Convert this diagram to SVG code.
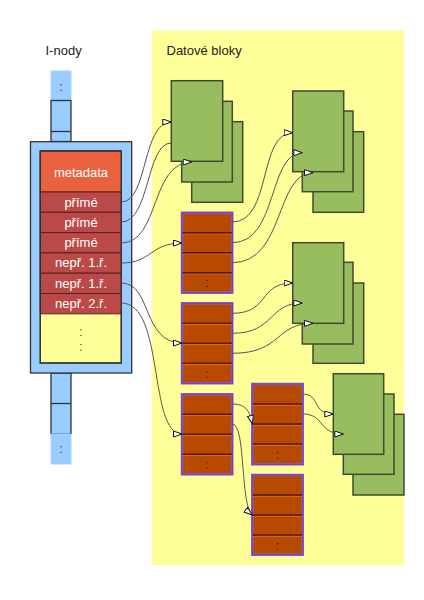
<svg xmlns="http://www.w3.org/2000/svg" width="424" height="600" viewBox="0 0 424 600">
<style>
.lbl{font-family:"Liberation Sans",Arial,sans-serif;font-size:13px;fill:#222}
.wt{font-family:"Liberation Sans",Arial,sans-serif;font-size:13px;fill:#fff;text-anchor:middle}
.dots{font-family:"Liberation Sans",Arial,sans-serif;font-size:12px;text-anchor:middle}
.blue{fill:#99ccff;stroke:#333;stroke-width:1.3}
.cell{fill:#99ccff;stroke:#a8d4ff;stroke-width:1}
.row{fill:#b94a48;stroke:#5a1e1e;stroke-width:1}
.card{fill:#97bd5f;stroke:#3f4a30;stroke-width:1.5}
.hl{fill:none;stroke:#b9e07e;stroke-width:1}
.blk{fill:#b84a00;stroke:#7a7a7a;stroke-width:2.5}
.blkin{fill:none;stroke:#8a2cff;stroke-width:1.3}
.rl{stroke:#4a1c00;stroke-width:1.5}
.rh{stroke:#e8690f;stroke-width:1}
.con{fill:none;stroke:#555;stroke-width:1}
</style>
<defs>
<marker id="arr" markerUnits="userSpaceOnUse" markerWidth="10" markerHeight="8" refX="9" refY="3.5" orient="auto">
<path d="M0.5,0.5 L9,3.5 L0.5,6.5 Z" fill="#fff" stroke="#111" stroke-width="1"/>
</marker>
</defs>
<rect x="151.7" y="30.7" width="252.3" height="534.3" fill="#ffff99"/>
<text class="lbl" x="45.5" y="54.5">I-nody</text>
<text class="lbl" x="166.5" y="54.5">Datové bloky</text>

<g id="inode-stack-top">
<rect class="cell" x="51" y="71" width="20" height="29.5"/>
<text class="dots" x="61" y="91" fill="#333">:</text>
<rect class="blue" x="51" y="100.5" width="20" height="41"/>
<line x1="51" y1="131.5" x2="71" y2="131.5" stroke="#333" stroke-width="1.3"/>
</g>
<g id="inode-stack-bottom">
<rect class="blue" x="51" y="373" width="20" height="61"/>
<line x1="51" y1="403.5" x2="71" y2="403.5" stroke="#333" stroke-width="1.3"/>
<rect class="cell" x="51" y="434" width="20" height="30"/>
<text class="dots" x="61" y="453" fill="#333">:</text>
</g>
<g id="inode">
<rect class="blue" x="30.5" y="141.7" width="101.2" height="231.3"/>
<rect x="40.3" y="151" width="81" height="212" fill="#ffff99" stroke="#333" stroke-width="1.3"/>
<rect x="40.3" y="151" width="81" height="41" fill="#e9613d" stroke="#5a1e1e" stroke-width="1"/>
<text class="wt" x="81" y="176.5">metadata</text>
<rect class="row" x="40.3" y="192" width="81" height="20.3"/>
<text class="wt" x="81" y="206.5">přímé</text>
<rect class="row" x="40.3" y="212.3" width="81" height="20.3"/>
<text class="wt" x="81" y="226.8">přímé</text>
<rect class="row" x="40.3" y="232.6" width="81" height="20.3"/>
<text class="wt" x="81" y="247.1">přímé</text>
<rect class="row" x="40.3" y="252.9" width="81" height="20.3"/>
<text class="wt" x="81" y="267.4">nepř. 1.ř.</text>
<rect class="row" x="40.3" y="273.2" width="81" height="20.3"/>
<text class="wt" x="81" y="287.7">nepř. 1.ř.</text>
<rect class="row" x="40.3" y="293.5" width="81" height="20.3"/>
<text class="wt" x="81" y="308">nepř. 2.ř.</text>
<rect x="40.3" y="151" width="81" height="212" fill="none" stroke="#333" stroke-width="1.3"/>
<text class="dots" x="81" y="336" fill="#444">:</text>
<text class="dots" x="81" y="351" fill="#444">:</text>
</g>

<g id="green-stack-1">
<rect class="card" x="191.7" y="121.7" width="51" height="80.6"/>
<rect class="card" x="181.7" y="101.3" width="50.6" height="80.7"/>
<rect class="card" x="171.3" y="80.7" width="51.4" height="80.6"/>
</g>
<g id="green-stack-2">
<rect class="card" x="313" y="131.7" width="50.7" height="80.6"/>
<rect class="card" x="302.3" y="111" width="50.7" height="80.7"/>
<rect class="card" x="292.7" y="91" width="51" height="80.7"/>
</g>
<g id="green-stack-3">
<rect class="card" x="313" y="283" width="50.7" height="80.3"/>
<rect class="card" x="302.3" y="262.3" width="50.7" height="81.7"/>
<rect class="card" x="292.7" y="242.7" width="51" height="80.6"/>
</g>
<g id="green-stack-4">
<rect class="card" x="353" y="414.3" width="51" height="80.7"/>
<rect class="card" x="343.3" y="394" width="50.7" height="80.3"/>
<rect class="card" x="333.3" y="373.7" width="50.4" height="80.6"/>
</g>

<g id="block-A">
<rect class="blk" x="182" y="212.7" width="50.3" height="80"/>
<line class="rh" x1="182" y1="234" x2="232.3" y2="234"/><line class="rh" x1="182" y1="254" x2="232.3" y2="254"/><line class="rh" x1="182" y1="274" x2="232.3" y2="274"/>
<line class="rl" x1="182" y1="232.7" x2="232.3" y2="232.7"/><line class="rl" x1="182" y1="252.7" x2="232.3" y2="252.7"/><line class="rl" x1="182" y1="272.7" x2="232.3" y2="272.7"/>
<rect class="blkin" x="182" y="212.7" width="50.3" height="80"/>
<text class="dots" x="207" y="287" fill="#3a1400">:</text>
</g>
<g id="block-B">
<rect class="blk" x="182" y="303.3" width="50.3" height="80"/>
<line class="rh" x1="182" y1="324.6" x2="232.3" y2="324.6"/><line class="rh" x1="182" y1="344.6" x2="232.3" y2="344.6"/><line class="rh" x1="182" y1="364.6" x2="232.3" y2="364.6"/>
<line class="rl" x1="182" y1="323.3" x2="232.3" y2="323.3"/><line class="rl" x1="182" y1="343.3" x2="232.3" y2="343.3"/><line class="rl" x1="182" y1="363.3" x2="232.3" y2="363.3"/>
<rect class="blkin" x="182" y="303.3" width="50.3" height="80"/>
<text class="dots" x="207" y="378" fill="#3a1400">:</text>
</g>
<g id="block-C">
<rect class="blk" x="182" y="394.3" width="50.3" height="80"/>
<line class="rh" x1="182" y1="415.6" x2="232.3" y2="415.6"/><line class="rh" x1="182" y1="435.6" x2="232.3" y2="435.6"/><line class="rh" x1="182" y1="455.6" x2="232.3" y2="455.6"/>
<line class="rl" x1="182" y1="414.3" x2="232.3" y2="414.3"/><line class="rl" x1="182" y1="434.3" x2="232.3" y2="434.3"/><line class="rl" x1="182" y1="454.3" x2="232.3" y2="454.3"/>
<rect class="blkin" x="182" y="394.3" width="50.3" height="80"/>
<text class="dots" x="207" y="469" fill="#3a1400">:</text>
</g>
<g id="block-D">
<rect class="blk" x="252.3" y="384" width="50.4" height="80.3"/>
<line class="rh" x1="252.3" y1="405.3" x2="302.7" y2="405.3"/><line class="rh" x1="252.3" y1="425.3" x2="302.7" y2="425.3"/><line class="rh" x1="252.3" y1="445.3" x2="302.7" y2="445.3"/>
<line class="rl" x1="252.3" y1="404" x2="302.7" y2="404"/><line class="rl" x1="252.3" y1="424" x2="302.7" y2="424"/><line class="rl" x1="252.3" y1="444" x2="302.7" y2="444"/>
<rect class="blkin" x="252.3" y="384" width="50.4" height="80.3"/>
<text class="dots" x="277.5" y="459" fill="#3a1400">:</text>
</g>
<g id="block-E">
<rect class="blk" x="252.3" y="475" width="50.4" height="79.7"/>
<line class="rh" x1="252.3" y1="496.3" x2="302.7" y2="496.3"/><line class="rh" x1="252.3" y1="516.3" x2="302.7" y2="516.3"/><line class="rh" x1="252.3" y1="536.3" x2="302.7" y2="536.3"/>
<line class="rl" x1="252.3" y1="495" x2="302.7" y2="495"/><line class="rl" x1="252.3" y1="515" x2="302.7" y2="515"/><line class="rl" x1="252.3" y1="535" x2="302.7" y2="535"/>
<rect class="blkin" x="252.3" y="475" width="50.4" height="79.7"/>
<text class="dots" x="277.5" y="550" fill="#3a1400">:</text>
</g>

<g id="connectors">
<path class="con" marker-end="url(#arr)" d="M121.3,202 C148,202 142,122 171.3,122"/>
<path class="con" d="M121.3,222 C150,222 146,143 171.3,143"/>
<path class="con" marker-end="url(#arr)" d="M121.3,243 C160,243 150,162 191.7,162"/>
<path class="con" marker-end="url(#arr)" d="M121.3,263 C152,263 150,243 182,243"/>
<path class="con" marker-end="url(#arr)" d="M121.3,283 C152,283 142,343 182,343"/>
<path class="con" marker-end="url(#arr)" d="M121.3,303 C165,303 148,434 182,434"/>
<path class="con" marker-end="url(#arr)" d="M232.3,222 C272,222 258,132.7 292.7,132.7"/>
<path class="con" marker-end="url(#arr)" d="M232.3,242.7 C278,242.7 268,152.7 302.3,152.7"/>
<path class="con" marker-end="url(#arr)" d="M232.3,262.7 C285,262.7 275,172.7 313,172.7"/>
<path class="con" marker-end="url(#arr)" d="M232.3,313.3 C270,313.3 258,283 292.7,283"/>
<path class="con" marker-end="url(#arr)" d="M232.3,333.3 C275,333.3 268,303 302.3,303"/>
<path class="con" marker-end="url(#arr)" d="M232.3,353.3 C282,353.3 275,323.3 313,323.3"/>
<path class="con" marker-end="url(#arr)" d="M232.3,404 C248,404 250,414 252.3,424"/>
<path class="con" marker-end="url(#arr)" d="M232.3,424 C246,424 240,505 252.3,515"/>
<path class="con" marker-end="url(#arr)" d="M302.7,394 C320,394 312,414 333.3,414"/>
<path class="con" marker-end="url(#arr)" d="M302.7,414 C325,414 318,434 343.3,434"/>
</g>
</svg>
